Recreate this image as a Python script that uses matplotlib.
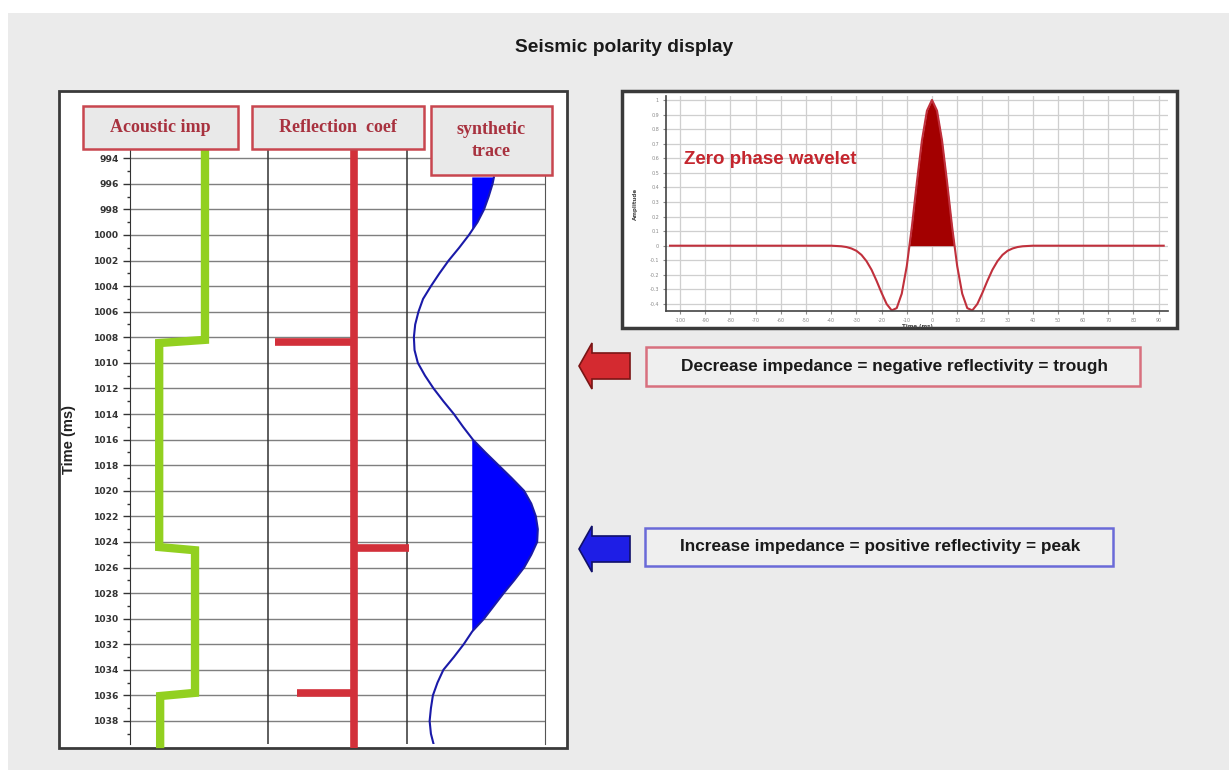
import numpy as np
import matplotlib
matplotlib.use("Agg")
import matplotlib.pyplot as plt
from matplotlib.patches import Rectangle, Polygon

W, H = 1229, 770

# acoustic impedance layers (top time, value)
ai_tops = [993.2, 1008.2, 1024.4, 1035.8]
ai_vals = [5.42, 2.11, 4.70, 2.18]

# reflection coefficients
rc_time = [1008.4, 1024.5, 1035.8]
rc_vals = [-0.57, 0.40, -0.41]

# synthetic trace (normalised amplitude)
syn_time = [995.5, 996, 997, 998, 999, 1000, 1001, 1002, 1003, 1004, 1005, 1006,
            1007, 1008, 1009, 1010, 1011, 1012, 1013, 1014, 1015, 1016, 1017,
            1018, 1019, 1020, 1021, 1022, 1023, 1024, 1025, 1026, 1027, 1028,
            1029, 1030, 1031, 1032, 1033, 1034, 1035, 1036, 1037, 1038, 1039,
            1039.8]
syn_amp = [0.33, 0.31, 0.25, 0.18, 0.08, -0.05, -0.20, -0.36, -0.50, -0.63,
           -0.75, -0.82, -0.87, -0.89, -0.88, -0.83, -0.72, -0.59, -0.44, -0.28,
           -0.14, 0.01, 0.20, 0.40, 0.60, 0.79, 0.90, 0.97, 1.00, 0.99, 0.90,
           0.79, 0.64, 0.48, 0.33, 0.18, 0.00, -0.13, -0.28, -0.44, -0.53, -0.60,
           -0.63, -0.65, -0.63, -0.59]

# zero phase wavelet
wav_time = [-104, -40, -38, -36, -34, -32, -30, -28, -26, -24, -22, -20, -18,
            -16, -14, -12, -10, -8, -6, -4, -2, 0, 2, 4, 6, 8, 10, 12, 14, 16,
            18, 20, 22, 24, 26, 28, 30, 32, 34, 36, 38, 40, 92]
wav_amp = [0, 0, -0.002, -0.004, -0.009, -0.019, -0.035, -0.063, -0.106, -0.165,
           -0.241, -0.324, -0.400, -0.444, -0.428, -0.329, -0.139, 0.128, 0.435,
           0.721, 0.926, 1.0, 0.926, 0.721, 0.435, 0.128, -0.139, -0.329, -0.428,
           -0.444, -0.400, -0.324, -0.241, -0.165, -0.106, -0.063, -0.035,
           -0.019, -0.009, -0.004, -0.002, 0, 0]

time_ticks = list(range(994, 1040, 2))
wav_xticks = list(range(-100, 100, 10))
wav_yticks = [round(v * 0.1, 1) for v in range(-4, 11)]

headers = ["Acoustic imp", "Reflection  coef", "synthetic\ntrace"]
notes = ["Decrease impedance = negative reflectivity = trough",
         "Increase impedance = positive reflectivity = peak"]

SANS = ["Liberation Sans", "DejaVu Sans"]
SERIF = ["Liberation Serif", "DejaVu Serif"]


def fx(x):
    return x / W


def fy(y):
    return 1 - y / H


def px_rect(x0, y0, x1, y1, **kw):
    return Rectangle((fx(x0), fy(y1)), (x1 - x0) / W, (y1 - y0) / H,
                     transform=fig.transFigure, **kw)


def px_axes(x0, y0, x1, y1):
    return fig.add_axes([fx(x0), fy(y1), (x1 - x0) / W, (y1 - y0) / H])


fig = plt.figure(figsize=(W / 100, H / 100), dpi=100, facecolor="white")

# background and panels
fig.patches.append(px_rect(8, 13, W + 5, H + 5, facecolor="#ebebeb", edgecolor="none", zorder=-3))
fig.patches.append(px_rect(59, 91, 567, 748, facecolor="white", edgecolor="#3a3a3a", lw=2, zorder=-2))
fig.patches.append(px_rect(622, 91, 1177, 328, facecolor="white", edgecolor="#3a3a3a", lw=2.5, zorder=-2))

fig.text(fx(624), fy(48), "Seismic polarity display", ha="center", va="center",
         fontsize=13.8, fontweight="bold", family=SANS, color="#1a1a1a")

# ---- log panel
ax = px_axes(130, 148, 545, 744)
ax.set_facecolor("white")
ax.set_xlim(0, 3)
ax.set_ylim(1039.8, 993.2)

ax.set_yticks(time_ticks)
ax.set_yticklabels([str(t) for t in time_ticks], fontsize=6.6, fontweight="bold",
                   color="#333333", family="DejaVu Sans")
ax.set_yticks(list(range(995, 1040, 2)), minor=True)
ax.tick_params(axis="y", which="major", length=5, width=1, color="#333333", pad=3)
ax.tick_params(axis="y", which="minor", length=2.5, width=1, color="#333333")
ax.set_xticks([])
ax.yaxis.grid(True, which="major", color="#7f7f7f", lw=1)
ax.set_axisbelow(True)
for s in ["top", "bottom"]:
    ax.spines[s].set_visible(False)
ax.spines["left"].set_color("#333333")
ax.spines["right"].set_color("#555555")
for xv in [1, 2]:
    ax.axvline(xv, color="#333333", lw=1.1, zorder=1)

# acoustic impedance step log
ai_x, ai_y = [], []
bottoms = ai_tops[1:] + [1039.8]
for i, (top, bot, v) in enumerate(zip(ai_tops, bottoms, ai_vals)):
    start = top if i == 0 else top + 0.25
    ai_x += [v / 10, v / 10]
    ai_y += [start, bot]
ax.plot(ai_x, ai_y, color="#92d020", lw=6, solid_joinstyle="miter", zorder=3, clip_on=False)

# reflection coefficients
rc_base = 1.62
ax.plot([rc_base, rc_base], [993.2, 1040.1], color="#d2303a", lw=5.5, zorder=3,
        solid_capstyle="butt", clip_on=False)
for t, r in zip(rc_time, rc_vals):
    ax.plot([rc_base, rc_base + r], [t, t], color="#d2303a", lw=5.5, zorder=3,
            solid_capstyle="butt")

# synthetic trace
syn_base = 2.474
syn_scale = 0.474
syn_t = np.array(syn_time)
syn_x = syn_base + syn_scale * np.array(syn_amp)
ax.fill_betweenx(syn_t, syn_base, syn_x, where=syn_x > syn_base, interpolate=True,
                 color="#0000ff", lw=0, zorder=2)
ax.plot(syn_x, syn_t, color="#1a1aa8", lw=1.5, zorder=3)

fig.text(fx(69), fy(440), "Time (ms)", rotation=90, ha="center", va="center",
         fontsize=10.5, fontweight="bold", family=SANS, color="#222222")

# header boxes
header_boxes = [(83, 106, 238, 149), (252, 106, 424, 149), (431, 106, 552, 175)]
for (x0, y0, x1, y1), lab in zip(header_boxes, headers):
    fig.patches.append(px_rect(x0, y0, x1, y1, facecolor="#e9e9e9", edgecolor="#c8464f",
                               lw=1.8, zorder=5))
    fig.text(fx((x0 + x1) / 2), fy((y0 + y1) / 2), lab, ha="center", va="center",
             fontsize=13, fontweight="bold", family=SERIF, color="#a8323f",
             linespacing=1.45, zorder=6)

# ---- wavelet panel
ax2 = px_axes(666, 96, 1168, 311)
ax2.set_xlim(-105.6, 93.7)
ax2.set_ylim(-0.448, 1.027)
ax2.set_xticks(wav_xticks)
ax2.set_xticklabels([str(v) for v in wav_xticks])
ax2.set_yticks(wav_yticks)
ax2.set_yticklabels([f"{v:g}" for v in wav_yticks])
ax2.tick_params(labelsize=3.5, colors="#8a8a8a", length=2, pad=3)
ax2.grid(True, color="#cfcfcf", lw=0.9)
ax2.set_axisbelow(True)
for s in ["top", "right"]:
    ax2.spines[s].set_visible(False)
for s in ["left", "bottom"]:
    ax2.spines[s].set_color("#444444")
    ax2.spines[s].set_linewidth(1.2)
wt = np.array(wav_time)
wa = np.array(wav_amp)
ax2.fill_between(wt, 0, wa, where=wa > 0, interpolate=True, color="#a30000", lw=0)
ax2.plot(wt, wa, color="#c0303c", lw=1.5)
ax2.set_xlabel("Time (ms)", fontsize=4, fontweight="bold", color="#444444", labelpad=1)
ax2.set_ylabel("Amplitude", fontsize=4, fontweight="bold", color="#444444", labelpad=8)
fig.text(fx(770), fy(160), "Zero phase wavelet", ha="center", va="center",
         fontsize=13.5, fontweight="bold", family=SANS, color="#c4262e")

# ---- arrows and notes
arrow_specs = [(366, "#d42a30", "#7a1515"), (549, "#1e1ee6", "#10106a")]
for yc, fc, ec in arrow_specs:
    pts = [(579, yc), (592, yc - 23), (592, yc - 13), (630, yc - 13),
           (630, yc + 13), (592, yc + 13), (592, yc + 23)]
    fig.patches.append(Polygon([(fx(x), fy(y)) for x, y in pts], closed=True,
                               transform=fig.transFigure, facecolor=fc,
                               edgecolor=ec, lw=1.2, zorder=4))

note_boxes = [((646, 347, 1140, 386), "#d8707e"), ((645, 528, 1113, 566), "#6a6ad8")]
for ((x0, y0, x1, y1), ec), txt in zip(note_boxes, notes):
    fig.patches.append(px_rect(x0, y0, x1, y1, facecolor="#efefef", edgecolor=ec,
                               lw=1.8, zorder=4))
    fig.text(fx(x0 + 35), fy((y0 + y1) / 2), txt, ha="left", va="center",
             fontsize=12.4, fontweight="bold", family=SANS, color="#1a1a1a", zorder=5)

fig.savefig("out.png", dpi=100, facecolor=fig.get_facecolor())
